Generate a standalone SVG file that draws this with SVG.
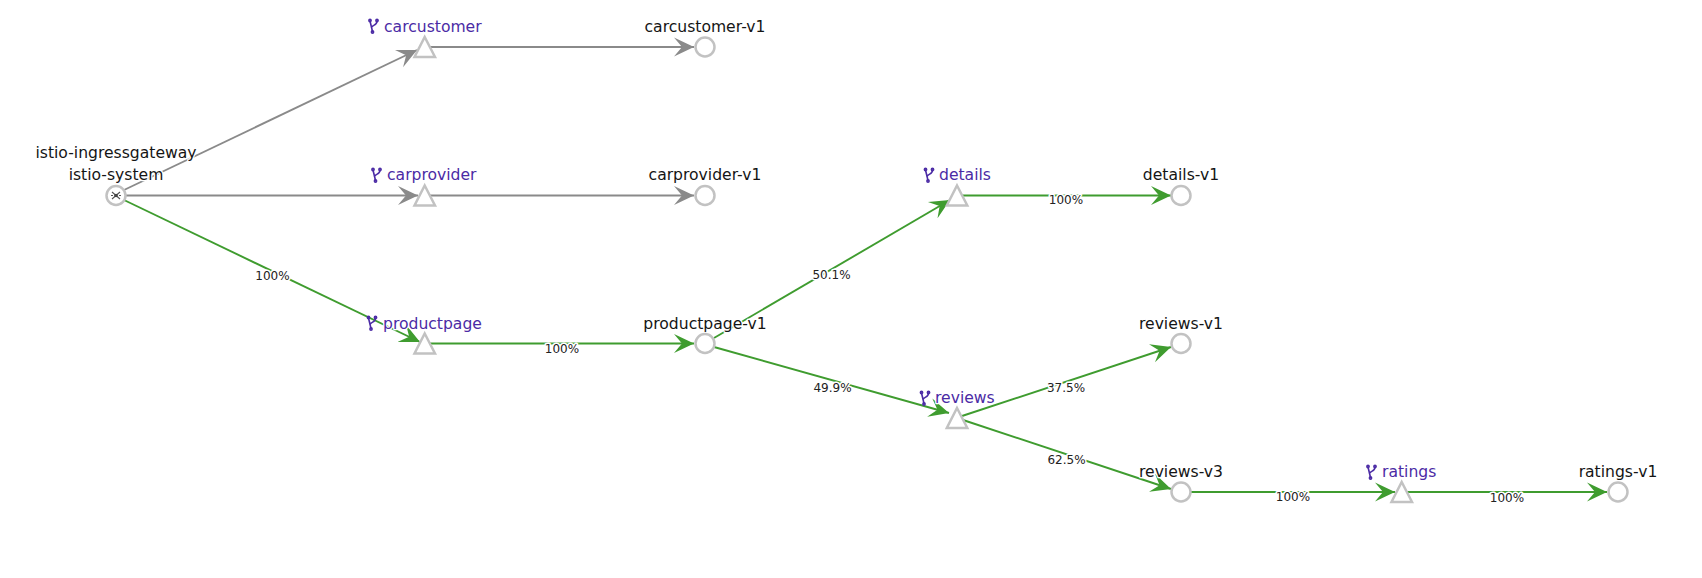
<svg xmlns="http://www.w3.org/2000/svg" width="1702" height="578" viewBox="0 0 1702 578">
<style>
text{font-family:"DejaVu Sans",Verdana,sans-serif;paint-order:stroke;stroke:#fff;stroke-linejoin:round}
.n{font-size:15.6px;fill:#151515;stroke-width:2.5px;text-anchor:middle}
.s{font-size:15.6px;fill:#4b2ba5;stroke-width:2.5px}
.e{font-size:12px;fill:#222;stroke-width:3px;text-anchor:middle}
.g{fill:none;stroke:#8a8a8a;stroke-width:1.9;marker-end:url(#ag)}
.a{fill:none;stroke:#3f9c2f;stroke-width:1.9;marker-end:url(#aa)}
.c{fill:#fff;stroke:#c2c2c2;stroke-width:2.5}
.i{fill:none;stroke:#4b2ba5;stroke-width:1.6;stroke-linecap:round}
</style>
<defs>
<marker id="ag" markerUnits="userSpaceOnUse" markerWidth="21" markerHeight="22" refX="20" refY="11" orient="auto"><path d="M0,1.5L20,11L0,20.5L8,11Z" fill="#8a8a8a"/></marker>
<marker id="aa" markerUnits="userSpaceOnUse" markerWidth="21" markerHeight="22" refX="20" refY="11" orient="auto"><path d="M0,1.5L20,11L0,20.5L8,11Z" fill="#3f9c2f"/></marker>
<g id="fork">
<path d="M-3.5,-5 L-1,5.5 M3.5,-5 C3.5,-0.5 -0.5,-1.5 -2,1.5"/>
<circle cx="-3.5" cy="-5.5" r="1.1"/><circle cx="3.5" cy="-5.5" r="1.1"/><circle cx="-1" cy="6" r="1.1"/>
</g>
</defs>
<g id="connectors">
<path class="g" d="M124,190L417,50"/>
<path class="g" d="M126,195.5L418,195.5"/>
<path class="a" d="M124,200L420,342"/>
<path class="g" d="M429,47L694,47"/>
<path class="g" d="M429,195.5L694,195.5"/>
<path class="a" d="M429,343.5L694,343.5"/>
<path class="a" d="M714,338L950,200"/>
<path class="a" d="M714,347L949,413"/>
<path class="a" d="M962,195.5L1171,195.5"/>
<path class="a" d="M962,416L1171,347"/>
<path class="a" d="M963,420L1171,489"/>
<path class="a" d="M1191,492L1395,492"/>
<path class="a" d="M1407,492L1607,492"/>
</g>
<g id="edge-labels">
<text class="e" x="272.5" y="280">100%</text>
<text class="e" x="562" y="353">100%</text>
<text class="e" x="831.5" y="279">50.1%</text>
<text class="e" x="1066" y="204">100%</text>
<text class="e" x="832.5" y="392">49.9%</text>
<text class="e" x="1066" y="391.5">37.5%</text>
<text class="e" x="1066.5" y="463.5">62.5%</text>
<text class="e" x="1293" y="501">100%</text>
<text class="e" x="1507" y="501.5">100%</text>
</g>
<g id="istio-ingressgateway">
<text class="n" x="116" y="157.5">istio-ingressgateway</text>
<text class="n" x="116" y="180">istio-system</text>
<circle class="c" cx="116" cy="195.5" r="9.5"/>
<path d="M112,192L120,199M120,192L112,199M111,195.5H113M119,195.5H121" stroke="#555" stroke-width="1.1" fill="none"/>
<circle cx="116" cy="195.5" r="1.8" fill="#444"/>
</g>
<g id="carcustomer">
<use href="#fork" class="i" x="373.5" y="26"/>
<text class="s" x="384" y="32">carcustomer</text>
<path class="c" d="M424.7,37L435,57H414.5Z"/>
</g>
<g id="carcustomer-v1">
<text class="n" x="705" y="32">carcustomer-v1</text>
<circle class="c" cx="705" cy="47" r="9.5"/>
</g>
<g id="carprovider">
<use href="#fork" class="i" x="376.5" y="175"/>
<text class="s" x="387" y="180">carprovider</text>
<path class="c" d="M424.7,185.5L435,205.5H414.5Z"/>
</g>
<g id="carprovider-v1">
<text class="n" x="705" y="180">carprovider-v1</text>
<circle class="c" cx="705" cy="195.5" r="9.5"/>
</g>
<g id="productpage">
<use href="#fork" class="i" x="372" y="323"/>
<text class="s" x="383" y="329">productpage</text>
<path class="c" d="M424.7,333.5L435,353.5H414.5Z"/>
</g>
<g id="productpage-v1">
<text class="n" x="705" y="329">productpage-v1</text>
<circle class="c" cx="705" cy="343.5" r="9.5"/>
</g>
<g id="details">
<use href="#fork" class="i" x="929" y="175"/>
<text class="s" x="939" y="180">details</text>
<path class="c" d="M957,185.5L967.3,205.5H946.8Z"/>
</g>
<g id="details-v1">
<text class="n" x="1181" y="180">details-v1</text>
<circle class="c" cx="1181" cy="195.5" r="9.5"/>
</g>
<g id="reviews-v1">
<text class="n" x="1181" y="329">reviews-v1</text>
<circle class="c" cx="1181" cy="343.5" r="9.5"/>
</g>
<g id="reviews">
<use href="#fork" class="i" x="925" y="398"/>
<text class="s" x="935" y="403">reviews</text>
<path class="c" d="M957,408L967.3,428H946.8Z"/>
</g>
<g id="reviews-v3">
<text class="n" x="1181" y="477">reviews-v3</text>
<circle class="c" cx="1181" cy="492" r="9.5"/>
</g>
<g id="ratings">
<use href="#fork" class="i" x="1371.5" y="472"/>
<text class="s" x="1382" y="477">ratings</text>
<path class="c" d="M1401.7,482L1412,502H1391.5Z"/>
</g>
<g id="ratings-v1">
<text class="n" x="1618" y="477">ratings-v1</text>
<circle class="c" cx="1618" cy="492" r="9.5"/>
</g>
</svg>
